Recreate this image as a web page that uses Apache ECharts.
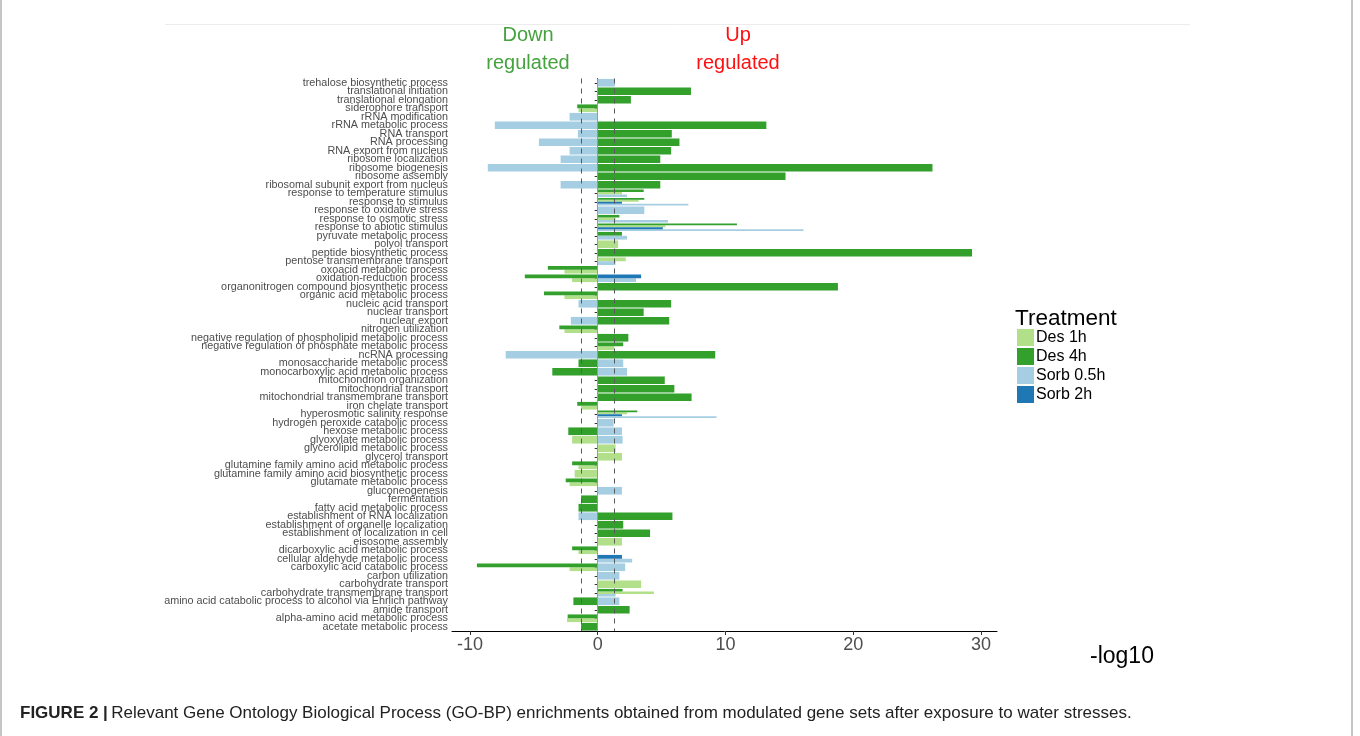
<!DOCTYPE html>
<html>
<head>
<meta charset="utf-8">
<script src="https://cdn.jsdelivr.net/npm/echarts@6/dist/echarts.min.js"></script>
<style>
html,body{margin:0;padding:0;background:#fff;}
#chart{width:1360px;height:736px;}
</style>
</head>
<body>
<div id="chart"></div>
<script>
// Categories, listed top to bottom as in the figure
const categories = [
  "trehalose biosynthetic process","translational initiation","translational elongation","siderophore transport",
  "rRNA modification","rRNA metabolic process","RNA transport","RNA processing","RNA export from nucleus",
  "ribosome localization","ribosome biogenesis","ribosome assembly","ribosomal subunit export from nucleus",
  "response to temperature stimulus","response to stimulus","response to oxidative stress","response to osmotic stress",
  "response to abiotic stimulus","pyruvate metabolic process","polyol transport","peptide biosynthetic process",
  "pentose transmembrane transport","oxoacid metabolic process","oxidation-reduction process",
  "organonitrogen compound biosynthetic process","organic acid metabolic process","nucleic acid transport",
  "nuclear transport","nuclear export","nitrogen utilization","negative regulation of phospholipid metabolic process",
  "negative regulation of phosphate metabolic process","ncRNA processing","monosaccharide metabolic process",
  "monocarboxylic acid metabolic process","mitochondrion organization","mitochondrial transport",
  "mitochondrial transmembrane transport","iron chelate transport","hyperosmotic salinity response",
  "hydrogen peroxide catabolic process","hexose metabolic process","glyoxylate metabolic process",
  "glycerolipid metabolic process","glycerol transport","glutamine family amino acid metabolic process",
  "glutamine family amino acid biosynthetic process","glutamate metabolic process","gluconeogenesis","fermentation",
  "fatty acid metabolic process","establishment of RNA localization","establishment of organelle localization",
  "establishment of localization in cell","eisosome assembly","dicarboxylic acid metabolic process",
  "cellular aldehyde metabolic process","carboxylic acid catabolic process","carbon utilization",
  "carbohydrate transport","carbohydrate transmembrane transport",
  "amino acid catabolic process to alcohol via Ehrlich pathway","amide transport",
  "alpha-amino acid metabolic process","acetate metabolic process"
];

const treatments = ["Des 1h", "Des 4h", "Sorb 0.5h", "Sorb 2h"];

// signed -log10 values (negative = down regulated), null = absent
const des1h = [
  null,null,null,-1.5, null,null,null,null,null, null,null,null,null,
  1.9,3.2,null,1.4, 5.3,null,1.6,null, 2.2,-2.6,-2.0, null,-2.6,null,
  null,null,-2.6,null, 1.3,null,null, null,null,null, null,-1.3,2.3,
  null,null,-2.0, 1.4,1.9,-1.5, -1.8,-2.2,null,null, null,null,null,
  null,1.9,-1.5, null,-2.2,null, 3.4,4.4, null,null, -2.4,null
];
const des4h = [
  null,7.3,2.6,-1.6, null,13.2,5.8,6.4,5.75, 4.9,26.2,14.7,4.9,
  3.6,3.65,null,1.7, 10.9,1.9,null,29.3, null,-3.9,-5.7, 18.8,-4.2,5.75,
  3.6,5.6,-3.0,2.4, 2.0,9.2,-1.5, -3.55,5.25,6.0, 7.35,-1.6,3.1,
  null,-2.3,null, null,null,-2.0, null,-2.5,null,-1.3, -1.5,5.85,2.0,
  4.1,null,-2.0, null,-9.45,null, null,1.95, -1.9,2.5, -2.35,-1.3
];
const sorb05h = [
  1.35,null,null,null, -2.2,-8.05,-1.55,-4.6,-2.2, -2.9,-8.6,null,-2.9,
  2.3,7.1,3.65,5.5, 16.1,2.3,null,null, 1.4,null,3.0, null,null,-1.5,
  null,-2.1,null,null, null,-7.2,2.0, 2.3,null,null, null,null,9.3,
  1.25,1.9,1.95, null,null,null, null,null,1.9,null, null,-1.5,null,
  null,null,null, 2.7,2.15,1.7, null,1.4, 1.7,null, null,null
];
const sorb2h = [
  null,null,null,null, null,null,null,null,null, null,null,null,null,
  null,1.9,null,null, 5.1,null,null,null, null,null,3.4, null,null,null,
  null,null,null,null, null,null,null, null,null,null, null,null,1.9,
  null,null,null, null,null,null, null,null,null,null, null,null,null,
  null,null,null, 1.9,null,null, null,null, null,null, null,null
];

const xTickValues = [-10, 0, 10, 20, 30];
const thresholds = [-1.3, 1.3];

const seriesValues = [des1h, des4h, sorb05h, sorb2h];
const colors = ["#b2df8a", "#33a02c", "#a6cee3", "#1f78b4"];
// stacking order within a category, top to bottom
const dodgeOrder = [1, 0, 3, 2];

// per-side dodge layout
const layout = seriesValues.map(() => []);
categories.forEach((c, ci) => {
  [-1, 1].forEach(sign => {
    const present = dodgeOrder.filter(t => {
      const v = seriesValues[t][ci];
      return v != null && Math.sign(v) === sign;
    });
    present.forEach((t, k) => { layout[t][ci] = { k: k, n: present.length }; });
  });
});

function makeRender(t) {
  return function (params, api) {
    const v = api.value(0), ci = api.value(1);
    const info = layout[t][ci];
    const base = api.coord([0, ci]);
    const end = api.coord([v, ci]);
    const band = api.size([0, 1])[1];
    const w = band * 0.9;
    const h = w / info.n;
    const y0 = base[1] - w / 2 + info.k * h;
    return {
      type: 'rect',
      shape: { x: Math.min(base[0], end[0]), y: y0, width: Math.abs(end[0] - base[0]), height: h },
      style: { fill: colors[t] }
    };
  };
}

const series = treatments.map((name, t) => ({
  name: name,
  type: 'custom',
  renderItem: makeRender(t),
  itemStyle: { color: colors[t] },
  encode: { x: 0, y: 1 },
  data: seriesValues[t].map((v, ci) => v == null ? null : [v, ci]).filter(d => d !== null),
  z: 2
}));

series.push({
  type: 'line',
  data: [],
  silent: true,
  z: 5,
  markLine: {
    symbol: 'none',
    silent: true,
    label: { show: false },
    data: [
      { xAxis: 0, lineStyle: { color: '#9a9a9a', type: 'solid', width: 1 } },
      ...thresholds.map(v => ({ xAxis: v, lineStyle: { color: '#5a5a5a', type: [5, 5], width: 1 } }))
    ]
  }
});

const chart = echarts.init(document.getElementById('chart'));
const FONT = 'Liberation Sans, Arial, sans-serif';
chart.setOption({
  animation: false,
  backgroundColor: '#fff',
  textStyle: { fontFamily: FONT },
  grid: { left: 452, right: 363, top: 78.5, bottom: 105, containLabel: false },
  xAxis: {
    type: 'value',
    min: -11.4, max: 31.25,
    axisLine: { show: true, lineStyle: { color: '#000', width: 1 } },
    axisTick: { show: true, customValues: xTickValues, length: 4, lineStyle: { color: '#333' } },
    axisLabel: { customValues: xTickValues, fontSize: 18, color: '#4d4d4d', margin: 5, fontFamily: FONT },
    splitLine: { show: false }
  },
  yAxis: {
    type: 'category',
    inverse: true,
    data: categories,
    axisLine: { show: true, lineStyle: { color: '#000', width: 1 } },
    axisTick: { show: true, alignWithLabel: true, length: 3, lineStyle: { color: '#333' } },
    axisLabel: { interval: 0, fontSize: 10.8, color: '#4d4d4d', margin: 4, fontFamily: FONT }
  },
  legend: {
    orient: 'vertical',
    left: 1017, top: 329,
    padding: 0,
    itemWidth: 17, itemHeight: 17, itemGap: 2,
    icon: 'rect',
    data: treatments,
    textStyle: { fontSize: 16, color: '#000', fontFamily: FONT, padding: [0, 0, 0, -3] }
  },
  graphic: [
    { type: 'rect', shape: { x: 1, y: -10, width: 1351, height: 760 }, style: { fill: 'none', stroke: '#8a8a8a', lineWidth: 1 }, silent: true },
    { type: 'line', shape: { x1: 165, y1: 24.5, x2: 1190, y2: 24.5 }, style: { stroke: '#ececec', lineWidth: 1 }, silent: true },
    { type: 'text', x: 528, y: 21, style: { text: 'Down\nregulated', fill: '#45a23f', font: '20px ' + FONT, textAlign: 'center', lineHeight: 28 } },
    { type: 'text', x: 738, y: 21, style: { text: 'Up\nregulated', fill: '#ff1010', font: '20px ' + FONT, textAlign: 'center', lineHeight: 28 } },
    { type: 'text', x: 1015, y: 307, style: { text: 'Treatment', fill: '#000', font: '22.5px ' + FONT } },
    { type: 'text', x: 1090, y: 645, style: { text: '-log10', fill: '#000', font: '23px ' + FONT } },
    { type: 'text', x: 20, y: 705, style: {
        text: '{b|FIGURE 2 |} {n|Relevant Gene Ontology Biological Process (GO-BP) enrichments obtained from modulated gene sets after exposure to water stresses.}',
        rich: {
          b: { fontWeight: 'bold', fontSize: 17, fill: '#222', fontFamily: FONT },
          n: { fontSize: 17, fill: '#222', fontFamily: FONT }
        }
      } }
  ],
  series: series
});
</script>
</body>
</html>
